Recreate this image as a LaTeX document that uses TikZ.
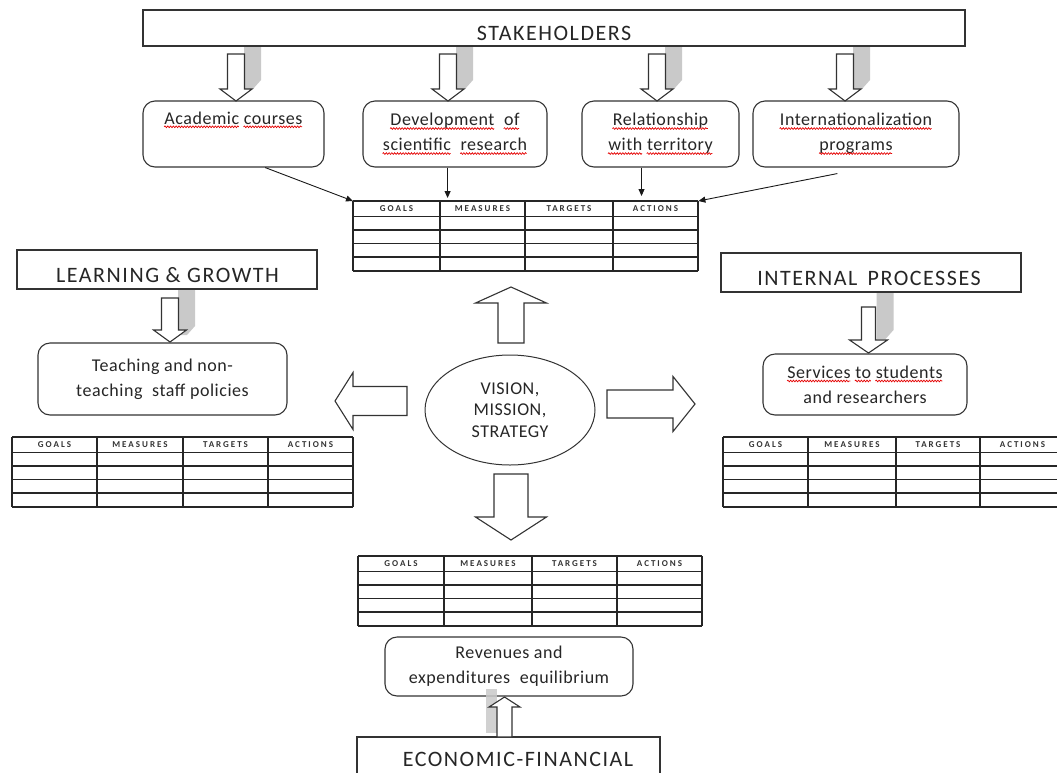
\documentclass[tikz,border=0pt]{standalone}
\usepackage{fontspec}
\setmainfont{Carlito}
\newfontfamily\capfont[LetterSpace=7]{Carlito}
\newfontfamily\txtfont[LetterSpace=3]{Carlito}
\newfontfamily\tabfont[LetterSpace=22]{Carlito}
\usetikzlibrary{arrows.meta,calc,decorations.pathmorphing,shapes.geometric}

\newsavebox\sqbox
\newlength\sqlen
\newcommand\sq[1]{\sbox\sqbox{#1}\setlength\sqlen{\wd\sqbox}%
  \usebox\sqbox\llap{\tikz[baseline=0pt,x=1pt,y=1pt]\draw[sharp corners,fill=none,draw=red!90!black,line width=0.7pt,decorate,decoration={snake,amplitude=0.85pt,segment length=2.8pt}] (0pt,-2.8pt) -- (\sqlen,-2.8pt);}}

\newcommand\varrow[7]{%
  \path[#7] ({#1-#4},#2) -- ({#1+#4},#2) -- ({#1+#4},#6) -- ({#1+#5},#6) -- (#1,#3) -- ({#1-#5},#6) -- ({#1-#4},#6) -- cycle;}
\newcommand\harrow[7]{%
  \path[#7] (#2,{#1-#4}) -- (#2,{#1+#4}) -- (#6,{#1+#4}) -- (#6,{#1+#5}) -- (#3,#1) -- (#6,{#1-#5}) -- (#6,{#1-#4}) -- cycle;}
\newcommand\vshadow[3]{%
  \fill[bshadow] ({#1+8},#2) -- ({#1+25},#2) -- ({#1+25},#3) -- ({#1+17},{#3+9}) -- ({#1+8},{#3+9}) -- cycle;}

\newcommand\bsctable[7]{%
  \node[draw=none,inner sep=0pt,minimum width={#6-#2},minimum height=70,anchor=north west] (#1) at (#2,#7) {};
  \foreach \dy in {0,15.5,29,42.5,56,70} \draw[tabline] (#2,{#7+\dy}) -- (#6,{#7+\dy});
  \foreach \cx in {#2,#3,#4,#5,#6} \draw[tabline] (\cx,#7) -- (\cx,{#7+70});
  \node[tabhead] (#1g) at ({(#2+#3)/2},{#7+8}) {GOALS};
  \node[tabhead] (#1m) at ({(#3+#4)/2},{#7+8}) {MEASURES};
  \node[tabhead] (#1t) at ({(#4+#5)/2},{#7+8}) {TARGETS};
  \node[tabhead] (#1a) at ({(#5+#6)/2},{#7+8}) {ACTIONS};
}

\tikzset{
  headbox/.style={draw=black!80,line width=1.1pt,fill=white,inner sep=0pt},
  rbox/.style={draw=black!80,line width=1.1pt,fill=white,rounded corners=12pt,inner sep=0pt,align=center,font=\txtfont\fontsize{18}{25}\selectfont,text=black!85},
  headtext/.style={font=\capfont\fontsize{22}{26}\selectfont,text=black!85,inner sep=0pt},
  tabline/.style={line width=1.6pt,black!85},
  tabhead/.style={font=\tabfont\bfseries\fontsize{9}{10}\selectfont,text=black!80,inner sep=0pt},
  conn/.style={line width=0.9pt,black!90,-{Triangle[length=7pt,width=6pt]}},
  barrow/.style={draw=black!80,line width=1.1pt,fill=white,line join=miter},
  bshadow/.style={fill=gray!42,draw=none},
}

\begin{document}
\begin{tikzpicture}[x=1pt,y=-1pt]
\useasboundingbox (0,0) rectangle (1057,772);
\clip (0,0) rectangle (1057,772);
\fill[white] (0,0) rectangle (1057,772);

% shadows of block arrows
\foreach \cx in {236,448,657,845} {\vshadow{\cx}{47}{80}}
\vshadow{170}{289}{326}
\vshadow{868.5}{292}{330}

% perspective boxes
\node[headbox,minimum width=822,minimum height=36] (stake) at (554,28) {};
\node[headtext] (staket) at (554,33) {STAKEHOLDERS};
\node[headbox,minimum width=300,minimum height=39] (learn) at (167,269.5) {};
\node[headtext] (learnt) at (167.5,275.5) {LEARNING \& GROWTH};
\node[headbox,minimum width=300,minimum height=39] (intern) at (871,272.5) {};
\node[headtext] (interntt) at (869,278) {INTERNAL\, PROCESSES};
\node[headbox,minimum width=303,minimum height=46] (econ) at (508.5,760) {};
\node[headtext] (econt) at (518,759.5) {ECONOMIC-FINANCIAL};

% rounded boxes
\node[rbox,minimum width=181,minimum height=66] (acad) at (233.5,134) {\sq{Academic} \sq{courses}\\ \strut};
\node[rbox,minimum width=184,minimum height=66] (dev) at (455,134) {\sq{Development}\; \sq{of}\\ \sq{scientific}\; \sq{research}};
\node[rbox,minimum width=157,minimum height=66] (rel) at (660.5,134) {\sq{Relationship}\\ \sq{with} \sq{territory}};
\node[rbox,minimum width=206,minimum height=66] (intl) at (856,134) {\sq{Internationalization}\\ \sq{programs}};
\node[rbox,minimum width=249,minimum height=72] (teach) at (162.5,379) {Teaching and non-\\teaching\; staff policies};
\node[rbox,minimum width=204,minimum height=61] (serv) at (865,384.5) {\sq{Services} \sq{to} \sq{students}\\and researchers};
\node[rbox,minimum width=248,minimum height=59] (rev) at (509,666.5) {Revenues and\\expenditures\; equilibrium};

% centre
\node[ellipse,draw=black!80,line width=1pt,minimum width=170,minimum height=110,inner sep=0pt,align=center,font=\txtfont\fontsize{18}{21.5}\selectfont,text=black!85] (vms) at (510,410) {VISION,\\MISSION,\\STRATEGY};

% block arrows
\foreach \cx in {236,448,657,845} {\varrow{\cx}{54}{101}{8.5}{16}{89}{barrow}}
\varrow{170}{298}{342}{8.5}{16.5}{330}{barrow}
\varrow{868.5}{307}{353}{7}{19}{340}{barrow}
\fill[bshadow,opacity=0.85] (486,689) rectangle (497,733);
\varrow{504.5}{737}{697}{7.5}{15.5}{707}{barrow}
\varrow{511}{343}{287}{13}{35.5}{303}{barrow}
\varrow{511}{474}{540}{17}{35.5}{517}{barrow}
\harrow{401}{407}{335}{14.5}{28.5}{353}{barrow}
\harrow{404}{607}{695}{14}{27.5}{673}{barrow}

% tables
\bsctable{ttab}{353}{440}{525}{613}{698}{201}
\bsctable{ltab}{12}{97}{183}{268}{353}{437}
\bsctable{rtab}{723}{808}{896}{980}{1065}{437}
\bsctable{btab}{358}{444}{532}{617}{702}{556}

% connectors
\coordinate (acadout) at ($(acad.south west)!0.674!(acad.south east)$);
\coordinate (devout) at ($(dev.south west)!0.46!(dev.south east)$);
\coordinate (relout) at ($(rel.south west)!0.38!(rel.south east)$);
\coordinate (intlout) at ($(intl.south west)!0.41!(intl.south east)+(0,6)$);
\draw[conn] (acadout) -- (ttab.north west);
\draw[conn,shorten >=3pt] (devout) -- (devout |- ttab.north);
\draw[conn,shorten >=5pt] (relout) -- (relout |- ttab.north);
\draw[conn] (intlout) -- (ttab.north east);
\end{tikzpicture}
\end{document}
